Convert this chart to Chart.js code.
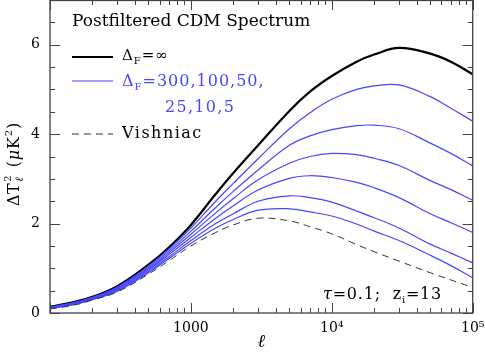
<!DOCTYPE html>
<html><head><meta charset="utf-8">
<script src="https://cdn.jsdelivr.net/npm/chart.js@4/dist/chart.umd.min.js"></script>
<style>html,body{margin:0;padding:0;background:#fff}canvas{display:block}</style>
</head><body>
<canvas id="c" width="485" height="357"></canvas>
<script>
// multipole values
const ells = [100,150,200,300,500,700,1000,1500,2000,3000,5000,7000,10000,15000,20000,30000,50000,70000,100000];
// Delta_F = infinity (unfiltered)
const unfiltered = [0.14,0.25,0.36,0.60,1.08,1.47,1.97,2.66,3.13,3.75,4.52,4.95,5.30,5.62,5.78,5.93,5.80,5.62,5.34];
// Postfiltered, Delta_F = 300,100,50,25,10,5
const filt300 = [0.13,0.24,0.35,0.58,1.05,1.43,1.90,2.50,2.90,3.45,4.12,4.48,4.78,5.00,5.08,5.10,4.84,4.58,4.29];
const filt100 = [0.12,0.23,0.34,0.56,1.02,1.39,1.83,2.36,2.72,3.20,3.75,3.96,4.10,4.19,4.20,4.12,3.80,3.57,3.29];
const filt50  = [0.12,0.22,0.33,0.54,0.99,1.35,1.76,2.24,2.56,2.98,3.35,3.50,3.57,3.54,3.46,3.30,2.96,2.76,2.52];
const filt25  = [0.11,0.21,0.32,0.52,0.96,1.31,1.69,2.12,2.40,2.75,3.01,3.07,3.03,2.92,2.80,2.58,2.22,2.02,1.80];
const filt10  = [0.10,0.20,0.31,0.50,0.93,1.26,1.62,2.00,2.22,2.50,2.62,2.58,2.48,2.28,2.13,1.90,1.54,1.34,1.12];
const filt5   = [0.10,0.19,0.30,0.49,0.90,1.22,1.56,1.90,2.09,2.30,2.33,2.26,2.17,1.99,1.83,1.62,1.29,1.06,0.79];
// Vishniac
const vishniac = [0.09,0.18,0.29,0.47,0.87,1.17,1.50,1.80,1.97,2.12,2.06,1.93,1.77,1.53,1.37,1.16,0.90,0.74,0.57];
// tick labels
const xTickLabels = {1000:'1000', 10000:'10\u2074', 100000:'10\u2075'};
const yTickLabels = [0,2,4,6];

const BLUE = '#4646ff';
const SERIF = '"DejaVu Serif", "Liberation Serif", serif';
const pts = arr => ells.map((l,i)=>({x:l, y:arr[i]}));
const blueSets = [filt300, filt100, filt50, filt25, filt10, filt5];

const datasets = [
  {label:'Vishniac', data:pts(vishniac), borderColor:'#333', borderWidth:1, borderDash:[7,5]},
  ...blueSets.map((a,i)=>({label:'filt'+i, data:pts(a), borderColor:BLUE, borderWidth:1.2})),
  {label:'inf', data:pts(unfiltered), borderColor:'#000', borderWidth:2.2}
].map(d=>Object.assign({pointRadius:0, fill:false, tension:0.4}, d));

function runs(ctx, x, y, parts, ls) {
  for (const p of parts) {
    ctx.font = (p.it ? 'italic ' : '') + p.size + 'px ' + SERIF;
    ctx.fillStyle = p.color || '#000';
    ctx.letterSpacing = (p.ls !== undefined ? p.ls : (ls||0)) + 'px';
    ctx.fillText(p.t, x + (p.dx||0), y + (p.dy||0));
    x += ctx.measureText(p.t).width + (p.dx||0);
  }
  ctx.letterSpacing = '0px';
  return x;
}

const decor = {
  id:'decor',
  afterDatasetsDraw(chart) {
    const {ctx, chartArea:a, scales:{x, y}} = chart;
    ctx.save();
    // frame
    ctx.strokeStyle = '#444'; ctx.lineWidth = 1.3;
    ctx.strokeRect(a.left, a.top + 0.5, a.right - a.left, a.bottom - a.top - 0.5);
    // inward ticks
    ctx.lineWidth = 1;
    ctx.beginPath();
    for (let d = 100; d <= 100000; d *= 10) {
      for (let m = 1; m <= 9; m++) {
        const v = m * d; if (v > 100000) break;
        const px = Math.round(x.getPixelForValue(v)) + 0.5;
        const len = m === 1 ? 10 : 5;
        ctx.moveTo(px, a.bottom); ctx.lineTo(px, a.bottom - len);
        ctx.moveTo(px, a.top); ctx.lineTo(px, a.top + len);
      }
    }
    for (let v = 0; v <= 7; v += 0.5) {
      const py = Math.round(y.getPixelForValue(v)) + 0.5;
      const len = v % 2 === 0 ? 10 : 5;
      ctx.moveTo(a.left, py); ctx.lineTo(a.left + len, py);
      ctx.moveTo(a.right, py); ctx.lineTo(a.right - len, py);
    }
    ctx.stroke();

    // legend block
    ctx.textBaseline = 'alphabetic'; ctx.textAlign = 'left';
    runs(ctx, 72, 26, [{t:'Postfiltered CDM Spectrum', size:17}], 0);
    const lx0 = 72, lx1 = 113;
    ctx.setLineDash([]);
    ctx.strokeStyle = '#000'; ctx.lineWidth = 2.2;
    ctx.beginPath(); ctx.moveTo(lx0, 57); ctx.lineTo(lx1, 57); ctx.stroke();
    ctx.strokeStyle = BLUE; ctx.lineWidth = 1.2;
    ctx.beginPath(); ctx.moveTo(lx0, 81); ctx.lineTo(lx1, 81); ctx.stroke();
    ctx.strokeStyle = '#333'; ctx.lineWidth = 1; ctx.setLineDash([7,5]);
    ctx.beginPath(); ctx.moveTo(lx0, 134); ctx.lineTo(lx1, 134); ctx.stroke();
    ctx.setLineDash([]);
    runs(ctx, 122, 60, [{t:'\u0394', size:15},{t:'F', size:10, dy:4},{t:'=\u221E', size:15}], 1);
    runs(ctx, 122, 86, [{t:'\u0394', size:16, color:BLUE},{t:'F', size:10, dy:4, color:BLUE},{t:'=300,100,50,', size:16, color:BLUE}], 1.0);
    runs(ctx, 165, 112, [{t:'25,10,5', size:16, color:BLUE}], 1.3);
    runs(ctx, 122, 138, [{t:'Vishniac', size:16}], 1.5);
    runs(ctx, 323, 299, [{t:'\u03C4', size:16, it:true},{t:'=0.1;  z', size:16},{t:'i', size:10, dy:4},{t:'=13', size:16}], 0.8);

    // y-axis title (rotated)
    ctx.translate(19, 206);
    ctx.rotate(-Math.PI/2);
    let xx = runs(ctx, 0, 0, [{t:'\u0394T', size:16}], 0.5);
    runs(ctx, xx+1, -8, [{t:'2', size:10}]);
    xx = runs(ctx, xx+1, 4, [{t:'\u2113', size:11, it:true}]);
    xx = runs(ctx, xx+4, 0, [{t:' (', size:16},{t:'\u03BC', size:16, it:true},{t:'K', size:16}], 0.8);
    xx = runs(ctx, xx, -7, [{t:'2', size:10}]);
    runs(ctx, xx+1, 0, [{t:')', size:16}]);
    ctx.restore();
  }
};

new Chart(document.getElementById('c').getContext('2d'), {
  type:'line',
  data:{datasets},
  options:{
    responsive:false, animation:false,
    layout:{padding:{left:0, right:12.3, top:0, bottom:0}},
    plugins:{legend:{display:false}, tooltip:{enabled:false}},
    scales:{
      x:{type:'logarithmic', min:100, max:100000,
         grid:{display:false, drawTicks:false}, border:{display:false},
         ticks:{autoSkip:false, maxRotation:0, padding:7, color:'#000',
                font:{family:SERIF, size:14},
                callback:(v)=> xTickLabels[v] || ''},
         title:{display:true, text:'\u2113', color:'#000', font:{family:SERIF, size:18, style:'italic'}, padding:{top:0,bottom:4}},
         afterFit:(s)=>{ s.height = 44; s.paddingLeft = 0; s.paddingRight = 0; }},
      y:{type:'linear', min:0, max:7,
         grid:{display:false, drawTicks:false}, border:{display:false},
         ticks:{stepSize:0.5, padding:10, color:'#000', font:{family:SERIF, size:14},
                callback:(v)=> yTickLabels.includes(v) ? String(v) : ''},
         afterFit:(s)=>{ s.width = 50; s.paddingTop = 0; s.paddingBottom = 0; }}
    }
  },
  plugins:[decor]
});
</script>
</body></html>
